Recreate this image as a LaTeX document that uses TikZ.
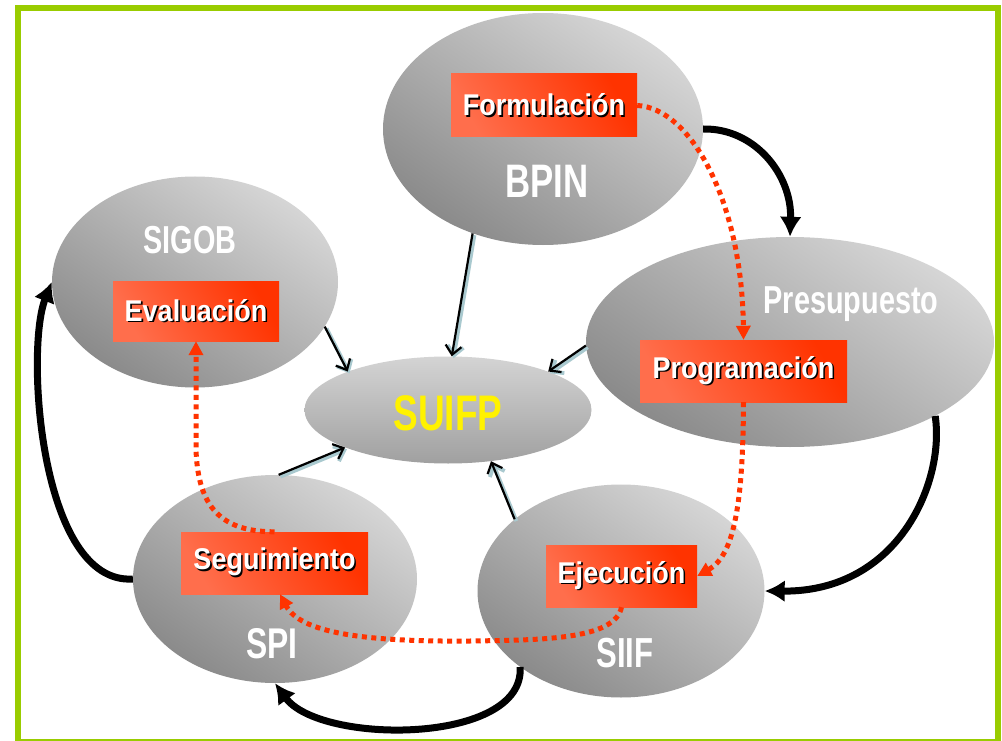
\documentclass[tikz,border=0pt]{standalone}
\usepackage{fontspec}
\setmainfont{Liberation Sans}
\newfontfamily\lblfont{Liberation Sans}[FakeStretch=0.74]
\newfontfamily\boxfont{Liberation Sans}[FakeStretch=0.9]
\usetikzlibrary{shapes.geometric,arrows.meta}
\definecolor{frameg}{HTML}{99CC00}
\definecolor{ellLight}{HTML}{D6D6D6}
\definecolor{ellDark}{HTML}{8A8A8A}
\definecolor{boxRed}{HTML}{FF3300}
\definecolor{boxLight}{HTML}{FF6E4C}
\definecolor{dotRed}{HTML}{FF3300}
\definecolor{feedShadow}{HTML}{A9C9CF}
\definecolor{suifpLight}{HTML}{D4D4D4}
\definecolor{suifpMid}{HTML}{C4C4C4}
\definecolor{suifpDark}{HTML}{A0A0A0}
\newcommand\shadowtxt[1]{\rlap{\kern1.6pt\raisebox{-1.6pt}{\color{black}#1}}{\color{white}#1}}
\tikzset{
  sysell/.style={ellipse, draw=none, shading=axis, top color=ellLight, bottom color=ellDark, shading angle=-35, inner sep=0pt},
  syslabel/.style={text=white, font=\lblfont\bfseries\fontsize{41}{45}\selectfont, inner sep=0pt, anchor=base},
  procbox/.style={rectangle, shading=axis, top color=boxRed, bottom color=boxLight, shading angle=-60, font=\boxfont\bfseries\fontsize{30}{34}\selectfont, inner sep=0pt},
  cyclearrow/.style={line width=7pt, -{Latex[length=20pt,width=22pt]}},
  feeder/.style={line width=2.2pt, -{Straight Barb[length=9pt,width=16pt]}, preaction={draw=feedShadow, line width=3.8pt, transform canvas={xshift=1.8pt,yshift=-1.8pt}}},
  flow/.style={draw=dotRed, line width=5pt, dash pattern=on 5pt off 4.5pt, -{Triangle[length=14pt,width=14pt]}}
}
\begin{document}
\begin{tikzpicture}[x=1pt,y=-1pt]
\useasboundingbox (0,0) rectangle (1002,741);
\clip (0,0) rectangle (1002,741);
\fill[white] (0,0) rectangle (1002,741);
\draw[frameg, line width=6.5pt] (18,8) rectangle (998,742);

% system ellipses
\node[sysell, minimum width=320pt, minimum height=232pt] (bpin) at (543,129) {};
\node[sysell, minimum width=286pt, minimum height=211pt] (sigob) at (195,282) {};
\node[sysell, minimum width=408pt, minimum height=210pt] (pres) at (790,342) {};
\node[sysell, minimum width=284pt, minimum height=208pt] (spi) at (275,579) {};
\node[sysell, minimum width=287pt, minimum height=213pt] (siif) at (621,591) {};
\node[ellipse, shading=axis, top color=suifpLight, middle color=suifpMid, bottom color=suifpDark, minimum width=287pt, minimum height=107pt, inner sep=0pt] (suifp) at (448,410) {};

% system labels
\node[syslabel, font=\lblfont\bfseries\fontsize{47}{50}\selectfont] (bpinlbl) at (547,197) {BPIN};
\node[syslabel, font=\lblfont\bfseries\fontsize{39}{42}\selectfont] (siglbl) at (190,253) {SIGOB};
\node[syslabel, font=\lblfont\bfseries\fontsize{39}{42}\selectfont] (preslbl) at (851,313) {Presupuesto};
\node[syslabel, font=\lblfont\bfseries\fontsize{43}{46}\selectfont] (spilbl) at (272,658) {SPI};
\node[syslabel, font=\lblfont\bfseries\fontsize{42}{45}\selectfont] (siiflbl) at (625,667) {SIIF};
\node[syslabel, text={yellow}, font=\lblfont\bfseries\fontsize{50}{53}\selectfont] (suifplbl) at (448,430) {SUIFP};

% process boxes
\node[procbox, minimum width=186pt, minimum height=63pt] (form) at (544,105.5) {\shadowtxt{Formulación}};
\node[procbox, minimum width=207pt, minimum height=62pt] (prog) at (743.5,371) {\shadowtxt{Programación}};
\node[procbox, minimum width=166pt, minimum height=60pt] (eval) at (196,311) {\shadowtxt{Evaluación}};
\node[procbox, minimum width=187pt, minimum height=62pt] (seg) at (274.5,563) {\shadowtxt{Seguimiento}};
\node[procbox, minimum width=151pt, minimum height=62pt] (ejec) at (621.5,576) {\shadowtxt{Ejecución}};

% cycle arrows
\draw[cyclearrow] (bpin.east) .. controls (755,128) and (792,175) .. (pres.north);
\draw[cyclearrow] (pres.-27) .. controls (945,480) and (900,592) .. (siif.east);
\draw[cyclearrow] (siif.217) .. controls (525,745) and (320,745) .. (spi.south);
\draw[cyclearrow] (spi.west) .. controls (40,585) and (25,350) .. (sigob.west);

% feeders into SUIFP
\draw[feeder] (sigob.-19) -- (suifp.159);
\draw[feeder] (bpin.236) -- (suifp.86);
\draw[feeder] (pres.181) -- (suifp.21);
\draw[feeder] (spi.88) -- (suifp.200);
\draw[feeder] (siif.146) -- (suifp.-50);

% process flow (dotted)
\draw[flow] (form.east) .. controls (690,108) and (742,200) .. (prog.north);
\draw[flow] (prog.south) .. controls (743,500) and (735,555) .. (ejec.east);
\draw[flow] (ejec.south) .. controls (615,640) and (540,640) .. (470,641) .. controls (360,642) and (300,632) .. (seg.-80);
\draw[flow] (seg.north) .. controls (215,532) and (198,500) .. (196,450) -- (eval.south);
\end{tikzpicture}
\end{document}
